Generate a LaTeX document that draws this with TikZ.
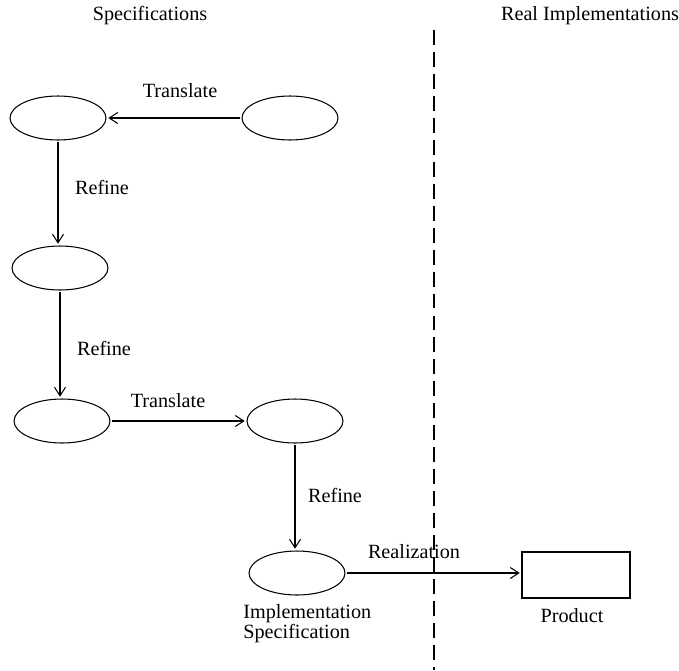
\documentclass[tikz,border=0pt]{standalone}
\usepackage{fontspec}
\setmainfont{Liberation Serif}
\usepackage{tikz}
\usetikzlibrary{arrows.meta, positioning, shapes.geometric}

\begin{document}
\begin{tikzpicture}[x=0.02cm, y=-0.02cm,
    every node/.style={font=\fontsize{11.5}{13.5}\selectfont},
    spec/.style={draw, ellipse, line width=0.6pt, minimum width=1.92cm, minimum height=0.88cm, inner sep=0pt},
    prod/.style={draw, rectangle, line width=0.6pt, minimum width=2.16cm, minimum height=0.92cm, inner sep=0pt},
    flow/.style={line width=0.6pt, -{Straight Barb[length=1.7mm, width=2.2mm]}, shorten >=1pt, shorten <=1pt}]
  \useasboundingbox (0,0) rectangle (679,670);

  % column headings and the border between them
  \node (spechead) at (150,16) {Specifications};
  \node (realhead) at (590,16) {Real Implementations};
  \coordinate (bordertop) at (434,30);
  \coordinate (borderbot) at (434,670);
  \draw[line width=0.6pt, dash pattern=on 8.5pt off 4pt] (bordertop) -- (borderbot);

  % specifications
  \node[spec] (s1) at (58,118) {};
  \node[spec] (s0) at (290,118) {};
  \node[spec] (s2) at (60,268) {};
  \node[spec] (s3) at (62,421) {};
  \node[spec] (s4) at (295,421) {};
  \node[spec] (impl) at (297,573) {};
  \node[prod] (product) at (576,575) {};

  \draw[flow] (s0) -- (s1);
  \draw[flow] (s1.south) -- (s1.south |- s2.north);
  \draw[flow] (s2.south) -- (s2.south |- s3.north);
  \draw[flow] (s3) -- (s4);
  \draw[flow] (s4.south) -- (s4.south |- impl.north);
  \draw[flow] (impl.east) -- (product.west |- impl.east);

  % labels
  \node (trans1) at (180,91) {Translate};
  \node (ref1) at (102,187) {Refine};
  \node (ref2) at (104,348) {Refine};
  \node (trans2) at (168,401) {Translate};
  \node (ref3) at (335,495) {Refine};
  \node (realize) at (414,552) {Realization};
  \node[align=left, anchor=north west, inner sep=0pt, font=\fontsize{11.5}{11.5}\selectfont] (impllabel) at (243,604) {Implementation\\Specification};
  \node (prodlabel) at (572,616) {Product};
\end{tikzpicture}
\end{document}
